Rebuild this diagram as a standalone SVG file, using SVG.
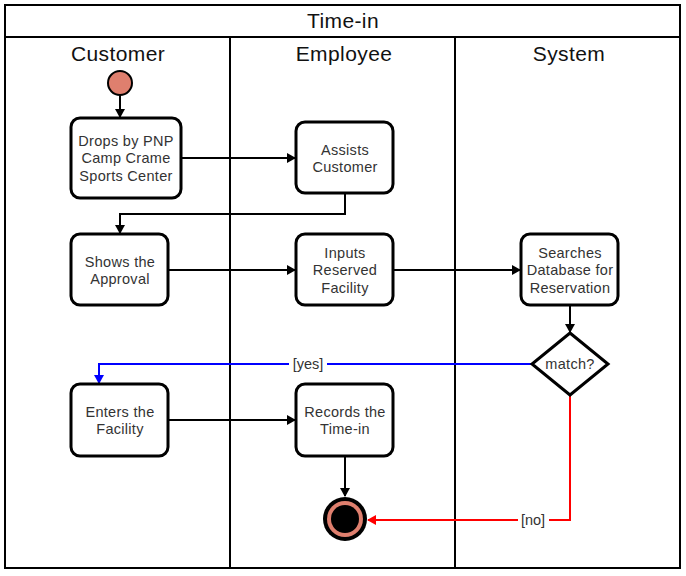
<svg xmlns="http://www.w3.org/2000/svg" width="686" height="576" viewBox="0 0 686 576">
<defs>
<style>
.lane{fill:none;stroke:#000;stroke-width:2}
.hdr{font-family:"Liberation Sans",Arial,sans-serif;font-size:21px;fill:#111;text-anchor:middle;letter-spacing:0.4px}
.box{fill:#fff;stroke:#000;stroke-width:3}
.t{font-family:"Liberation Sans",Arial,sans-serif;font-size:14.5px;fill:#333;text-anchor:middle;letter-spacing:0.3px}
.c{fill:none;stroke:#000;stroke-width:2}
.lbl{font-family:"Liberation Sans",Arial,sans-serif;font-size:14.5px;fill:#333;text-anchor:middle}
</style>
<marker id="ab" markerWidth="10" markerHeight="10" refX="8" refY="5" orient="auto" markerUnits="userSpaceOnUse"><path d="M0,0 L9,5 L0,10 Z" fill="#000"/></marker>
<marker id="abl" markerWidth="10" markerHeight="10" refX="8" refY="5" orient="auto" markerUnits="userSpaceOnUse"><path d="M0,0 L9,5 L0,10 Z" fill="#0000ff"/></marker>
<marker id="ar" markerWidth="10" markerHeight="10" refX="8" refY="5" orient="auto" markerUnits="userSpaceOnUse"><path d="M0,0 L9,5 L0,10 Z" fill="#ff0000"/></marker>
</defs>
<rect width="686" height="576" fill="#fff"/>
<g id="pool">
<rect class="lane" x="5" y="5" width="675" height="563"/>
<line class="lane" x1="5" y1="37" x2="680" y2="37"/>
<line class="lane" x1="230" y1="37" x2="230" y2="568"/>
<line class="lane" x1="455" y1="37" x2="455" y2="568"/>
<text class="hdr" x="343" y="28">Time-in</text>
<text class="hdr" x="118" y="61">Customer</text>
<text class="hdr" x="344" y="61">Employee</text>
<text class="hdr" x="569" y="61">System</text>
</g>
<g id="connectors">
<path class="c" d="M120,95 V117" marker-end="url(#ab)"/>
<path class="c" d="M181,158 H295" marker-end="url(#ab)"/>
<path class="c" d="M345,193 V214 H120 V233" marker-end="url(#ab)"/>
<path class="c" d="M168,270 H295" marker-end="url(#ab)"/>
<path class="c" d="M393,270 H520" marker-end="url(#ab)"/>
<path class="c" d="M570,305 V332" marker-end="url(#ab)"/>
<path class="c" d="M168,420 H295" marker-end="url(#ab)"/>
<path class="c" d="M345,456 V496" marker-end="url(#ab)"/>
<path class="c" style="stroke:#0000ff" d="M532,364 H99 V383" marker-end="url(#abl)"/>
<rect x="289" y="356" width="38" height="16" fill="#fff"/>
<text class="lbl" x="308" y="369">[yes]</text>
<path class="c" style="stroke:#ff0000" d="M570,395 V520 H368" marker-end="url(#ar)"/>
<rect x="518" y="512" width="31" height="16" fill="#fff"/>
<text class="lbl" x="533" y="525">[no]</text>
</g>
<g id="start"><circle cx="120" cy="83" r="12" fill="#df7f6e" stroke="#000" stroke-width="2"/></g>
<g id="drops"><rect class="box" x="71" y="118" width="110" height="80" rx="9"/>
<text class="t" x="126" y="146">Drops by PNP</text><text class="t" x="126" y="163">Camp Crame</text><text class="t" x="126" y="181">Sports Center</text></g>
<g id="assists"><rect class="box" x="296" y="122" width="97" height="71" rx="9"/>
<text class="t" x="345" y="155">Assists</text><text class="t" x="345" y="172">Customer</text></g>
<g id="shows"><rect class="box" x="71" y="234" width="97" height="71" rx="9"/>
<text class="t" x="120" y="267">Shows the</text><text class="t" x="120" y="284">Approval</text></g>
<g id="inputs"><rect class="box" x="296" y="234" width="97" height="71" rx="9"/>
<text class="t" x="345" y="258">Inputs</text><text class="t" x="345" y="275">Reserved</text><text class="t" x="345" y="293">Facility</text></g>
<g id="searches"><rect class="box" x="521" y="234" width="97" height="71" rx="9"/>
<text class="t" x="570" y="258">Searches</text><text class="t" x="570" y="275">Database for</text><text class="t" x="570" y="293">Reservation</text></g>
<g id="match"><polygon points="570,333 608,364 570,395 532,364" fill="#fff" stroke="#000" stroke-width="3"/>
<text class="t" x="570" y="369">match?</text></g>
<g id="enters"><rect class="box" x="71" y="384" width="97" height="72" rx="9"/>
<text class="t" x="120" y="417">Enters the</text><text class="t" x="120" y="434">Facility</text></g>
<g id="records"><rect class="box" x="296" y="384" width="97" height="72" rx="9"/>
<text class="t" x="345" y="417">Records the</text><text class="t" x="345" y="434">Time-in</text></g>
<g id="end"><circle cx="345" cy="519" r="22" fill="#000"/><circle cx="345" cy="519" r="18" fill="#df7f6e"/><circle cx="345" cy="519" r="14" fill="#000"/></g>
</svg>
